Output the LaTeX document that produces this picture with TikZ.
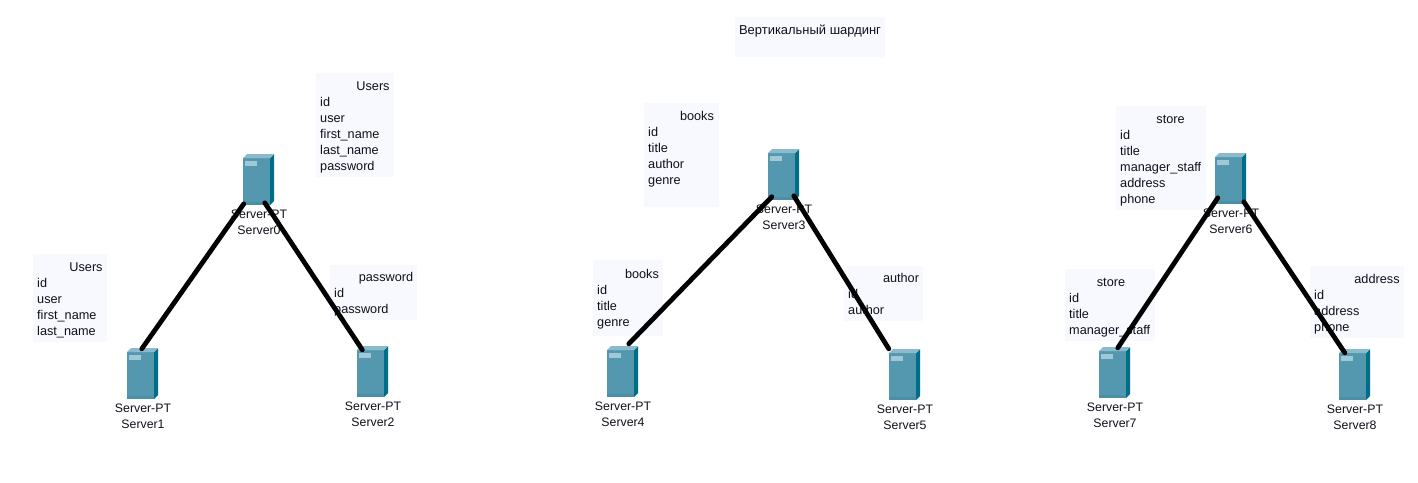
\documentclass[tikz,border=0pt]{standalone}
\usepackage{fontspec}
\setmainfont{Liberation Sans}
\definecolor{tfill}{HTML}{F8F8FF}
\definecolor{ink}{HTML}{10101C}
\definecolor{sfront}{HTML}{5498AF}
\definecolor{sband}{HTML}{4A8FA6}
\definecolor{sside}{HTML}{006E87}
\definecolor{stop}{HTML}{8ABACB}
\definecolor{sslot}{HTML}{A0C8D6}
\tikzset{
  tbg/.style={fill=tfill,draw=none,inner sep=0pt,anchor=north west},
  tbody/.style={inner sep=0pt,anchor=north west,align=left,text=ink,font=\fontsize{12.7}{16}\selectfont},
  ttitle/.style={inner sep=0pt,anchor=north,text=ink,font=\fontsize{12.7}{16}\selectfont},
  captitle/.style={inner sep=0pt,anchor=north,text=ink,font=\fontsize{12.95}{16}\selectfont},
  srvbox/.style={inner sep=0pt,minimum width=31pt,minimum height=51pt,draw=none},
  srvlab/.style={inner sep=0pt,anchor=north,align=center,text=ink,font=\fontsize{12.3}{16}\selectfont},
  link/.style={draw=black,line width=4.8pt,line cap=round}
}
% \srv{name}{x}{y}{number}
\newcommand{\srv}[4]{%
  \fill[sfront] (#2,#3+4) rectangle (#2+27,#3+51);
  \fill[sband] (#2,#3+47.5) rectangle (#2+27,#3+51);
  \fill[sside] (#2+27,#3+4) -- (#2+31,#3) -- (#2+31,#3+47) -- (#2+27,#3+51) -- cycle;
  \fill[stop] (#2,#3+4) -- (#2+4,#3) -- (#2+31,#3) -- (#2+27,#3+4) -- cycle;
  \fill[sslot] (#2+2,#3+7) rectangle (#2+14,#3+11.5);
  \node[srvbox] (#1) at (#2+15.5,#3+25.5) {};
  \node[srvlab] (#1lab) at (#2+16,#3+53.5) {\strut Server-PT\\Server#4};
}
\begin{document}
\begin{tikzpicture}[x=1pt,y=-1pt]
\useasboundingbox (0,0) rectangle (1418,482);
\fill[white] (0,0) rectangle (1418,482);

% caption
\node[tbg,minimum width=150pt,minimum height=40pt] (capbg) at (735,17) {};
\node[captitle] (cap) at (810,22.6) {\strut Вертикальный шардинг};

% tables
\node[tbg,minimum width=78pt,minimum height=104pt] (t0) at (316,73) {};
\node[ttitle] (t0t) at (373,78.6) {\strut Users};
\node[tbody] (t0b) at (320,94.6) {\strut id\\user\\first\_name\\last\_name\\password};

\node[tbg,minimum width=74pt,minimum height=88pt] (t1) at (33,254) {};
\node[ttitle] (t1t) at (86,259.6) {\strut Users};
\node[tbody] (t1b) at (37,275.6) {\strut id\\user\\first\_name\\last\_name};

\node[tbg,minimum width=87pt,minimum height=55pt] (t2) at (330,265) {};
\node[ttitle] (t2t) at (386,269.6) {\strut password};
\node[tbody] (t2b) at (334,285.6) {\strut id\\password};

\node[tbg,minimum width=75pt,minimum height=104pt] (t3) at (644,103) {};
\node[ttitle] (t3t) at (697,108.6) {\strut books};
\node[tbody] (t3b) at (648,124.6) {\strut id\\title\\author\\genre};

\node[tbg,minimum width=70pt,minimum height=76pt] (t4) at (593,260) {};
\node[ttitle] (t4t) at (642,266.6) {\strut books};
\node[tbody] (t4b) at (597,282.6) {\strut id\\title\\genre};

\node[tbg,minimum width=79pt,minimum height=55pt] (t5) at (844,266) {};
\node[ttitle] (t5t) at (901,270.6) {\strut author};
\node[tbody] (t5b) at (848,286.6) {\strut id\\author};

\node[tbg,minimum width=90pt,minimum height=104pt] (t6) at (1116,106) {};
\node[ttitle] (t6t) at (1170.5,111.6) {\strut store};
\node[tbody] (t6b) at (1120,127.6) {\strut id\\title\\manager\_staff\\address\\phone};

\node[tbg,minimum width=90pt,minimum height=72pt] (t7) at (1065,269) {};
\node[ttitle] (t7t) at (1111,274.6) {\strut store};
\node[tbody] (t7b) at (1069,290.6) {\strut id\\title\\manager\_staff};

\node[tbg,minimum width=94pt,minimum height=72pt] (t8) at (1310,266) {};
\node[ttitle] (t8t) at (1377,271.6) {\strut address};
\node[tbody] (t8b) at (1314,287.6) {\strut id\\address\\phone};

% servers
\srv{s0}{243}{154}{0}
\srv{s1}{127}{348}{1}
\srv{s2}{357}{346}{2}
\srv{s3}{768}{149}{3}
\srv{s4}{607}{346}{4}
\srv{s5}{889}{349}{5}
\srv{s6}{1215}{153}{6}
\srv{s7}{1099}{347}{7}
\srv{s8}{1339}{349}{8}

% connectors
\draw[link] ([shift={(1,50)}]s0.north west) -- ([shift={(15,1)}]s1.north west);
\draw[link] ([shift={(22,49)}]s0.north west) -- ([shift={(5.5,4)}]s2.north west);
\draw[link] ([shift={(4,48)}]s3.north west) -- ([shift={(22,-2)}]s4.north west);
\draw[link] ([shift={(26,47)}]s3.north west) -- ([shift={(0,0)}]s5.north west);
\draw[link] ([shift={(3,45)}]s6.north west) -- ([shift={(19,1)}]s7.north west);
\draw[link] ([shift={(29,49)}]s6.north west) -- ([shift={(6,4)}]s8.north west);
\end{tikzpicture}
\end{document}
